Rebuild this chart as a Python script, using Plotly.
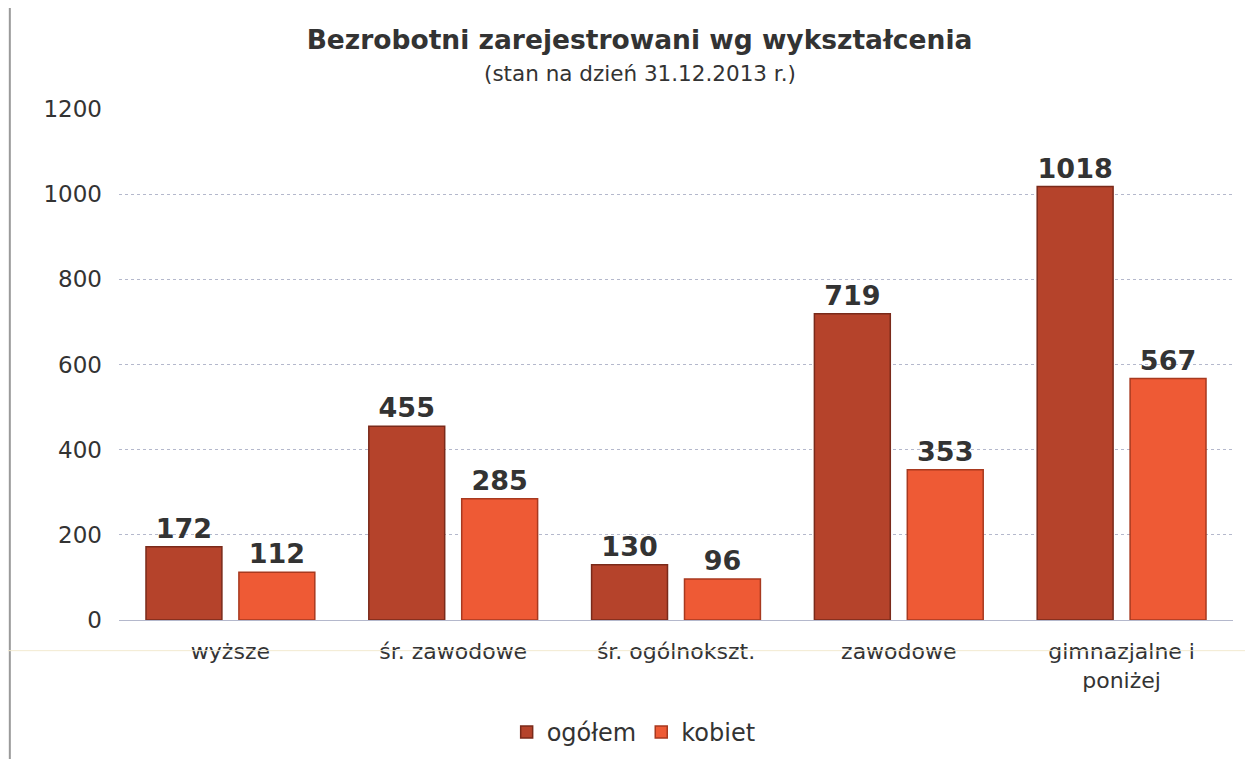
import plotly.graph_objects as go

categories = ["wyższe", "śr. zawodowe", "śr. ogólnokszt.", "zawodowe", "gimnazjalne i<br>poniżej"]
ogolem = [172, 455, 130, 719, 1018]
kobiet = [112, 285, 96, 353, 567]
y_ticks = [0, 200, 400, 600, 800, 1000, 1200]

FONT = "DejaVu Sans, Liberation Sans, Arial"
TXT = "#333333"

fig = go.Figure()
fig.add_trace(go.Bar(
    x=categories, y=ogolem, name="ogółem",
    marker=dict(color="#B5432B", line=dict(color="#7A2A1A", width=1.5)),
    text=ogolem, texttemplate="<b>%{text}</b>", textposition="outside",
    textfont=dict(family=FONT, size=27, color=TXT),
    cliponaxis=False,
))
fig.add_trace(go.Bar(
    x=categories, y=kobiet, name="kobiet",
    marker=dict(color="#EE5A35", line=dict(color="#A8391F", width=1.5)),
    text=kobiet, texttemplate="<b>%{text}</b>", textposition="outside",
    textfont=dict(family=FONT, size=27, color=TXT),
    cliponaxis=False,
))

fig.update_layout(
    width=1253, height=759,
    paper_bgcolor="white", plot_bgcolor="white",
    margin=dict(l=111, r=28, t=101, b=138),
    barmode="group", bargap=0.166, bargroupgap=0.183,
    font=dict(family=FONT, color=TXT),
    title=dict(
        text="<b>Bezrobotni zarejestrowani wg wykształcenia</b>",
        x=0.504, xanchor="center", y=0.97, yanchor="top",
        font=dict(size=26.5, color=TXT),
    ),
    showlegend=True,
    legend=dict(
        orientation="h", x=0.462, xanchor="center", y=-0.22, yanchor="middle",
        font=dict(size=24, color=TXT), traceorder="normal",
        itemwidth=30,
    ),
    uniformtext=dict(mode=False),
)
fig.add_annotation(
    text="(stan na dzień 31.12.2013 r.)", xref="paper", yref="paper",
    x=0.504 * 1253 / 1114 - 111 / 1114, y=1.07, xanchor="center", yanchor="middle",
    showarrow=False, font=dict(family=FONT, size=21.5, color=TXT),
)
fig.update_yaxes(
    range=[0, 1200], tickvals=y_ticks, ticktext=[str(v) for v in y_ticks],
    showgrid=True, gridcolor="#B4B8CC", griddash="dot", gridwidth=1,
    zeroline=False, showline=False,
    tickfont=dict(size=23, color=TXT), ticks="", ticklabelstandoff=16,
)
fig.update_xaxes(
    showline=True, linecolor="#B4B8CC", linewidth=1,
    tickfont=dict(size=22, color=TXT), ticks="", ticklabelstandoff=12,
)
# faint scan lines (left edge and under axis)
fig.add_shape(type="line", xref="paper", yref="paper", x0=-0.098, x1=-0.098, y0=-0.3, y1=1.25,
              line=dict(color="#9A9A9A", width=2))
fig.add_shape(type="line", xref="paper", yref="paper", x0=-0.1, x1=1.03, y0=-0.06, y1=-0.06,
              line=dict(color="#F2EAD0", width=1))
fig.write_html("out.html")
